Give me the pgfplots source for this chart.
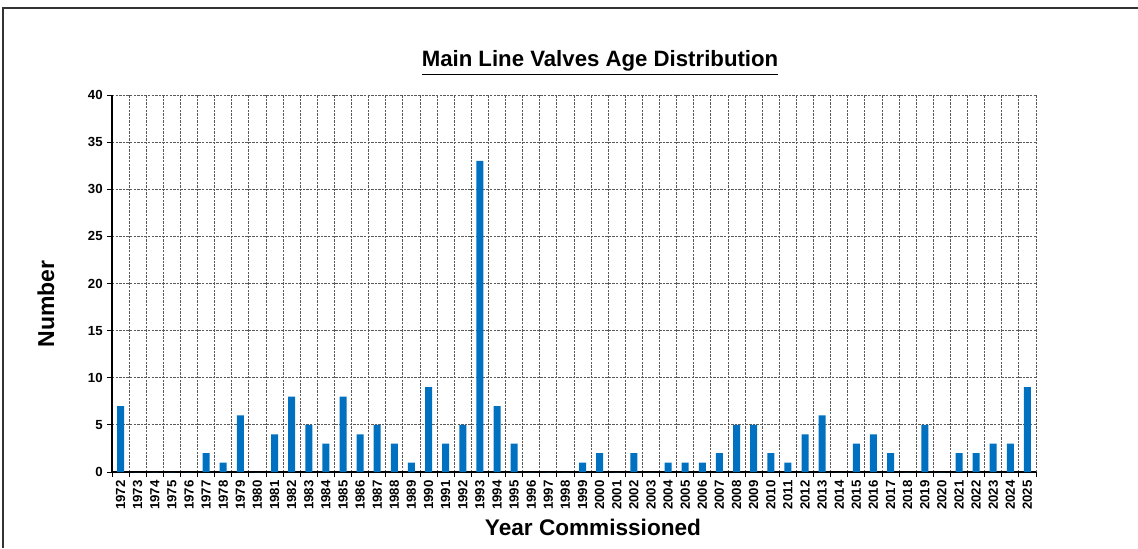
\documentclass[border=0pt]{standalone}
\usepackage{fontspec}
\setmainfont{Liberation Sans}
\usepackage{pgfplots}
\pgfplotsset{compat=1.18}

\definecolor{barblue}{RGB}{0,112,192}
\definecolor{gridgray}{RGB}{90,90,90}

% 1 px of the reference = 0.5pt
\newcommand{\px}{0.5pt}

\begin{document}
\begin{tikzpicture}[x=\px, y=\px]
\useasboundingbox (0,0) rectangle (1138,-548);
% chart frame (partly cut off in the reference)
\draw[line width=0.7pt, black!80] (3,-548) -- (3,-8) -- (1138,-8);

\begin{axis}[
    at={(56pt,-236pt)}, anchor=south west,
    scale only axis,
    width=462pt, height=188.5pt,
    xmin=-0.5, xmax=53.5,
    ymin=0, ymax=40,
    axis x line*=bottom, axis y line*=left,
    axis line style={black, line width=0.6pt, -},
    xtick={0,...,53},
    xticklabels={1972,1973,1974,1975,1976,1977,1978,1979,1980,1981,
                 1982,1983,1984,1985,1986,1987,1988,1989,1990,1991,
                 1992,1993,1994,1995,1996,1997,1998,1999,2000,2001,
                 2002,2003,2004,2005,2006,2007,2008,2009,2010,2011,
                 2012,2013,2014,2015,2016,2017,2018,2019,2020,2021,
                 2022,2023,2024,2025},
    minor xtick={-0.5,0.5,...,53.5},
    x tick style={draw=none},
    minor x tick style={draw=black, line width=0.5pt},
    minor tick length=2.5pt,
    xminorgrids=true, xmajorgrids=false,
    ytick={0,5,...,40},
    ymajorgrids=true,
    y tick style={black, line width=0.5pt},
    major tick length=2.5pt,
    tick align=outside,
    grid style={gridgray, line width=0.4pt, dash pattern=on 1.2pt off 0.6pt},
    minor grid style={gridgray, line width=0.4pt, dash pattern=on 1.2pt off 0.6pt},
    xticklabel style={rotate=90, anchor=east, font=\fontsize{6.6}{7}\selectfont\bfseries, inner sep=1.5pt},
    yticklabel style={font=\fontsize{6.6}{7}\selectfont\bfseries, inner sep=2pt},
    /pgf/number format/assume math mode=true,
    ybar, bar width=3.5pt,
    clip=false,
]
\addplot[fill=barblue, draw=none] coordinates {
    (0,7)(1,0)(2,0)(3,0)(4,0)(5,2)(6,1)(7,6)(8,0)(9,4)
    (10,8)(11,5)(12,3)(13,8)(14,4)(15,5)(16,3)(17,1)(18,9)(19,3)
    (20,5)(21,33)(22,7)(23,3)(24,0)(25,0)(26,0)(27,1)(28,2)(29,0)
    (30,2)(31,0)(32,1)(33,1)(34,1)(35,2)(36,5)(37,5)(38,2)(39,1)
    (40,4)(41,6)(42,0)(43,3)(44,4)(45,2)(46,0)(47,5)(48,0)(49,2)
    (50,2)(51,3)(52,3)(53,9)
};
\end{axis}

\node[font=\fontsize{11.1}{13}\selectfont\bfseries] at (600,-63) {\underline{Main Line Valves Age Distribution}};
\node[font=\fontsize{11.5}{13}\selectfont\bfseries, rotate=90] at (46,-304) {Number};
\node[font=\fontsize{11.3}{13}\selectfont\bfseries] at (593,-527) {Year Commissioned};
\end{tikzpicture}
\end{document}
